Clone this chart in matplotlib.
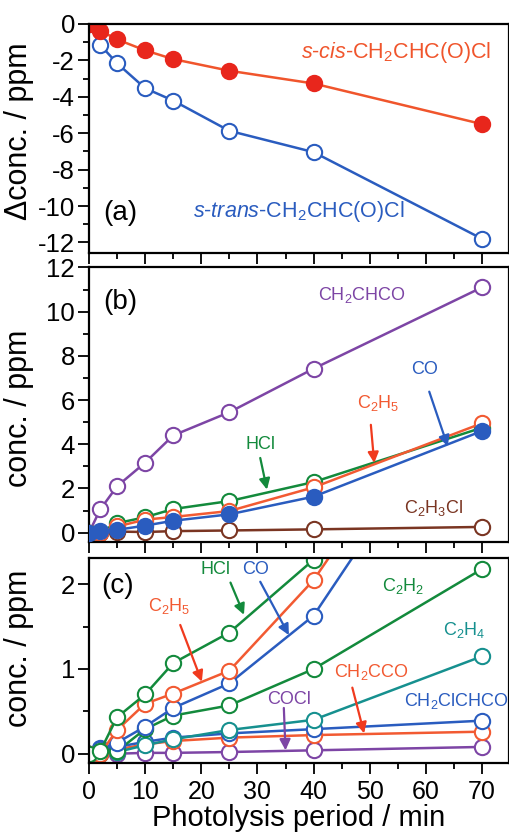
import numpy as np
import matplotlib
matplotlib.use('Agg')
import matplotlib.pyplot as plt
from matplotlib.ticker import MultipleLocator

plt.rcParams['font.family'] = ['Liberation Sans', 'DejaVu Sans']
plt.rcParams['mathtext.fontset'] = 'custom'
plt.rcParams['mathtext.rm'] = 'Liberation Sans'
plt.rcParams['mathtext.it'] = 'Liberation Sans:italic'
plt.rcParams['axes.unicode_minus'] = False

# photolysis period (min)
t = [0, 2, 5, 10, 15, 25, 40, 70]

# panel (a): change of conformers
s_cis = [0, -0.37, -0.85, -1.45, -1.93, -2.57, -3.27, -5.5]
s_trans = [0, -1.15, -2.16, -3.53, -4.21, -5.87, -7.04, -11.8]

# panel (b) / (c): products
ch2chco = [0, 1.05, 2.1, 3.17, 4.4, 5.45, 7.42, 11.1]
hcl = [0, 0.03, 0.43, 0.70, 1.07, 1.43, 2.29, 4.75]
c2h5 = [0, 0.0, 0.28, 0.59, 0.71, 0.98, 2.05, 4.95]
co = [0, 0.06, 0.13, 0.32, 0.54, 0.83, 1.63, 4.6]
c2h3cl = [0, 0.0, 0.05, 0.03, 0.07, 0.10, 0.15, 0.26]
c2h2 = [0, 0.02, 0.03, 0.29, 0.45, 0.57, 1.0, 2.18]
c2h4 = [0, 0.0, 0.02, 0.10, 0.17, 0.28, 0.40, 1.15]
ch2ccco = [0, 0.0, 0.05, 0.11, 0.15, 0.19, 0.22, 0.26]
ch2clchco = [0, 0.07, 0.08, 0.14, 0.19, 0.24, 0.29, 0.39]
cocl = [0, 0.0, 0.0, 0.01, 0.01, 0.02, 0.04, 0.08]

red = '#e8261c'
redline = '#f0552c'
blue = '#2a5cbf'
purple = '#7d45a5'
green = '#138a3c'
orange = '#f25a32'
brown = '#7a3522'
teal = '#16908f'

ms = 11
mew = 1.5
lw = 1.8

fig = plt.figure(figsize=(5.10, 8.32), dpi=100)
L, W = 0.1745, 0.8235
ax1 = fig.add_axes([L, 0.6959, W, 0.9712 - 0.6959])
ax2 = fig.add_axes([L, 0.3486, W, 0.6791 - 0.3486])
ax3 = fig.add_axes([L, 0.0829, W, 0.3293 - 0.0829])


def openline(ax, y, c, z=2):
    ax.plot(t, y, '-o', color=c, lw=lw, ms=ms, mfc='white', mec=c, mew=mew, zorder=z)


def arrow(ax, txt_xy, tip_xy, c):
    ax.annotate('', xy=tip_xy, xytext=txt_xy,
                arrowprops=dict(arrowstyle='-|>', color=c, lw=1.6, mutation_scale=16,
                                shrinkA=0, shrinkB=0), zorder=6)


# (a)
ax1.plot(t, s_trans, '-o', color=blue, lw=lw, ms=ms, mfc='white', mec=blue, mew=mew)
ax1.plot(t, s_cis, '-o', color=redline, lw=lw, ms=ms, mfc=red, mec=red, mew=mew)
ax1.set_ylim(-12.58, 0)
ax1.yaxis.set_major_locator(MultipleLocator(2))
ax1.yaxis.set_minor_locator(MultipleLocator(1))
ax1.set_ylabel('\u0394conc. / ppm')
ax1.yaxis.set_label_coords(-0.13, 0.53)
ax1.text(71.6, -1.54, r'$\mathit{s}$-$\mathit{cis}$-CH$_2$CHC(O)Cl', color=redline,
         fontsize=15.5, ha='right', va='center')
ax1.text(37.3, -10.3, r'$\mathit{s}$-$\mathit{trans}$-CH$_2$CHC(O)Cl', color=blue,
         fontsize=15.5, ha='center', va='center')
ax1.text(5.5, -10.4, '(a)', fontsize=20, ha='center', va='center')

# (b)
openline(ax2, ch2chco, purple)
openline(ax2, c2h3cl, brown)
openline(ax2, hcl, green)
openline(ax2, c2h5, orange)
ax2.plot(t, co, '-o', color=blue, lw=lw, ms=ms, mfc=blue, mec=blue, mew=mew, zorder=3)
ax2.set_ylim(-0.42, 12.02)
ax2.yaxis.set_major_locator(MultipleLocator(2))
ax2.yaxis.set_minor_locator(MultipleLocator(1))
ax2.set_ylabel('conc. / ppm')
ax2.yaxis.set_label_coords(-0.13, 0.485)
ax2.text(5.5, 10.45, '(b)', fontsize=20, ha='center', va='center')
ax2.text(48.6, 10.77, 'CH$_2$CHCO', color=purple, fontsize=13, ha='center', va='center')
ax2.text(61.4, 1.13, 'C$_2$H$_3$Cl', color=brown, fontsize=13, ha='center', va='center')
ax2.text(30.5, 4.0, 'HCl', color=green, fontsize=13, ha='center', va='center')
arrow(ax2, (30.5, 3.38), (31.7, 1.95), green)
ax2.text(51.5, 5.86, 'C$_2$H$_5$', color=orange, fontsize=13, ha='center', va='center')
arrow(ax2, (50.2, 4.88), (50.8, 3.15), '#f03a1e')
ax2.text(59.8, 7.37, 'CO', color=blue, fontsize=13, ha='center', va='center')
arrow(ax2, (60.6, 6.38), (63.9, 3.9), blue)

# (c)
openline(ax3, cocl, purple)
openline(ax3, ch2ccco, orange)
openline(ax3, ch2clchco, blue)
openline(ax3, c2h4, teal)
openline(ax3, c2h2, green)
openline(ax3, co, blue)
openline(ax3, c2h5, orange)
openline(ax3, hcl, green)
ax3.set_ylim(-0.11, 2.31)
ax3.yaxis.set_major_locator(MultipleLocator(1))
ax3.yaxis.set_minor_locator(MultipleLocator(0.5))
ax3.set_ylabel('conc. / ppm')
ax3.yaxis.set_label_coords(-0.13, 0.56)
ax3.set_xlabel('Photolysis period / min', fontsize=21, labelpad=0)
ax3.text(5.0, 1.98, '(c)', fontsize=20, ha='center', va='center')
ax3.text(22.5, 2.17, 'HCl', color=green, fontsize=13, ha='center', va='center')
arrow(ax3, (25.2, 2.02), (27.6, 1.64), green)
ax3.text(29.6, 2.17, 'CO', color=blue, fontsize=13, ha='center', va='center')
arrow(ax3, (30.5, 2.03), (35.6, 1.40), blue)
ax3.text(14.3, 1.74, 'C$_2$H$_5$', color=orange, fontsize=13, ha='center', va='center')
arrow(ax3, (16.25, 1.52), (20.1, 0.85), '#f03a1e')
ax3.text(55.9, 1.98, 'C$_2$H$_2$', color=green, fontsize=13, ha='center', va='center')
ax3.text(66.8, 1.46, 'C$_2$H$_4$', color=teal, fontsize=13, ha='center', va='center')
ax3.text(50.3, 0.97, 'CH$_2$CCO', color=orange, fontsize=13, ha='center', va='center')
arrow(ax3, (46.9, 0.78), (49.0, 0.24), '#f03a1e')
ax3.text(35.7, 0.64, 'COCl', color=purple, fontsize=13, ha='center', va='center')
arrow(ax3, (34.7, 0.54), (35.0, 0.04), purple)
ax3.text(65.5, 0.62, 'CH$_2$ClCHCO', color=blue, fontsize=13, ha='center', va='center')

for ax in (ax1, ax2, ax3):
    ax.set_xlim(0, 74.8)
    ax.xaxis.set_major_locator(MultipleLocator(10))
    ax.xaxis.set_minor_locator(MultipleLocator(5))
    ax.tick_params(which='both', direction='out', width=1.3, top=False, right=False,
                   labelsize=18, pad=4)
    ax.tick_params(axis='y', labelsize=18.5, pad=2)
    ax.tick_params(which='major', length=8)
    ax.tick_params(which='minor', length=4.5)
    ax.yaxis.label.set_fontsize(22)
    for s in ax.spines.values():
        s.set_linewidth(1.6)
for ax in (ax1, ax2):
    ax.tick_params(labelbottom=False)

fig.savefig('out.png', dpi=100)
